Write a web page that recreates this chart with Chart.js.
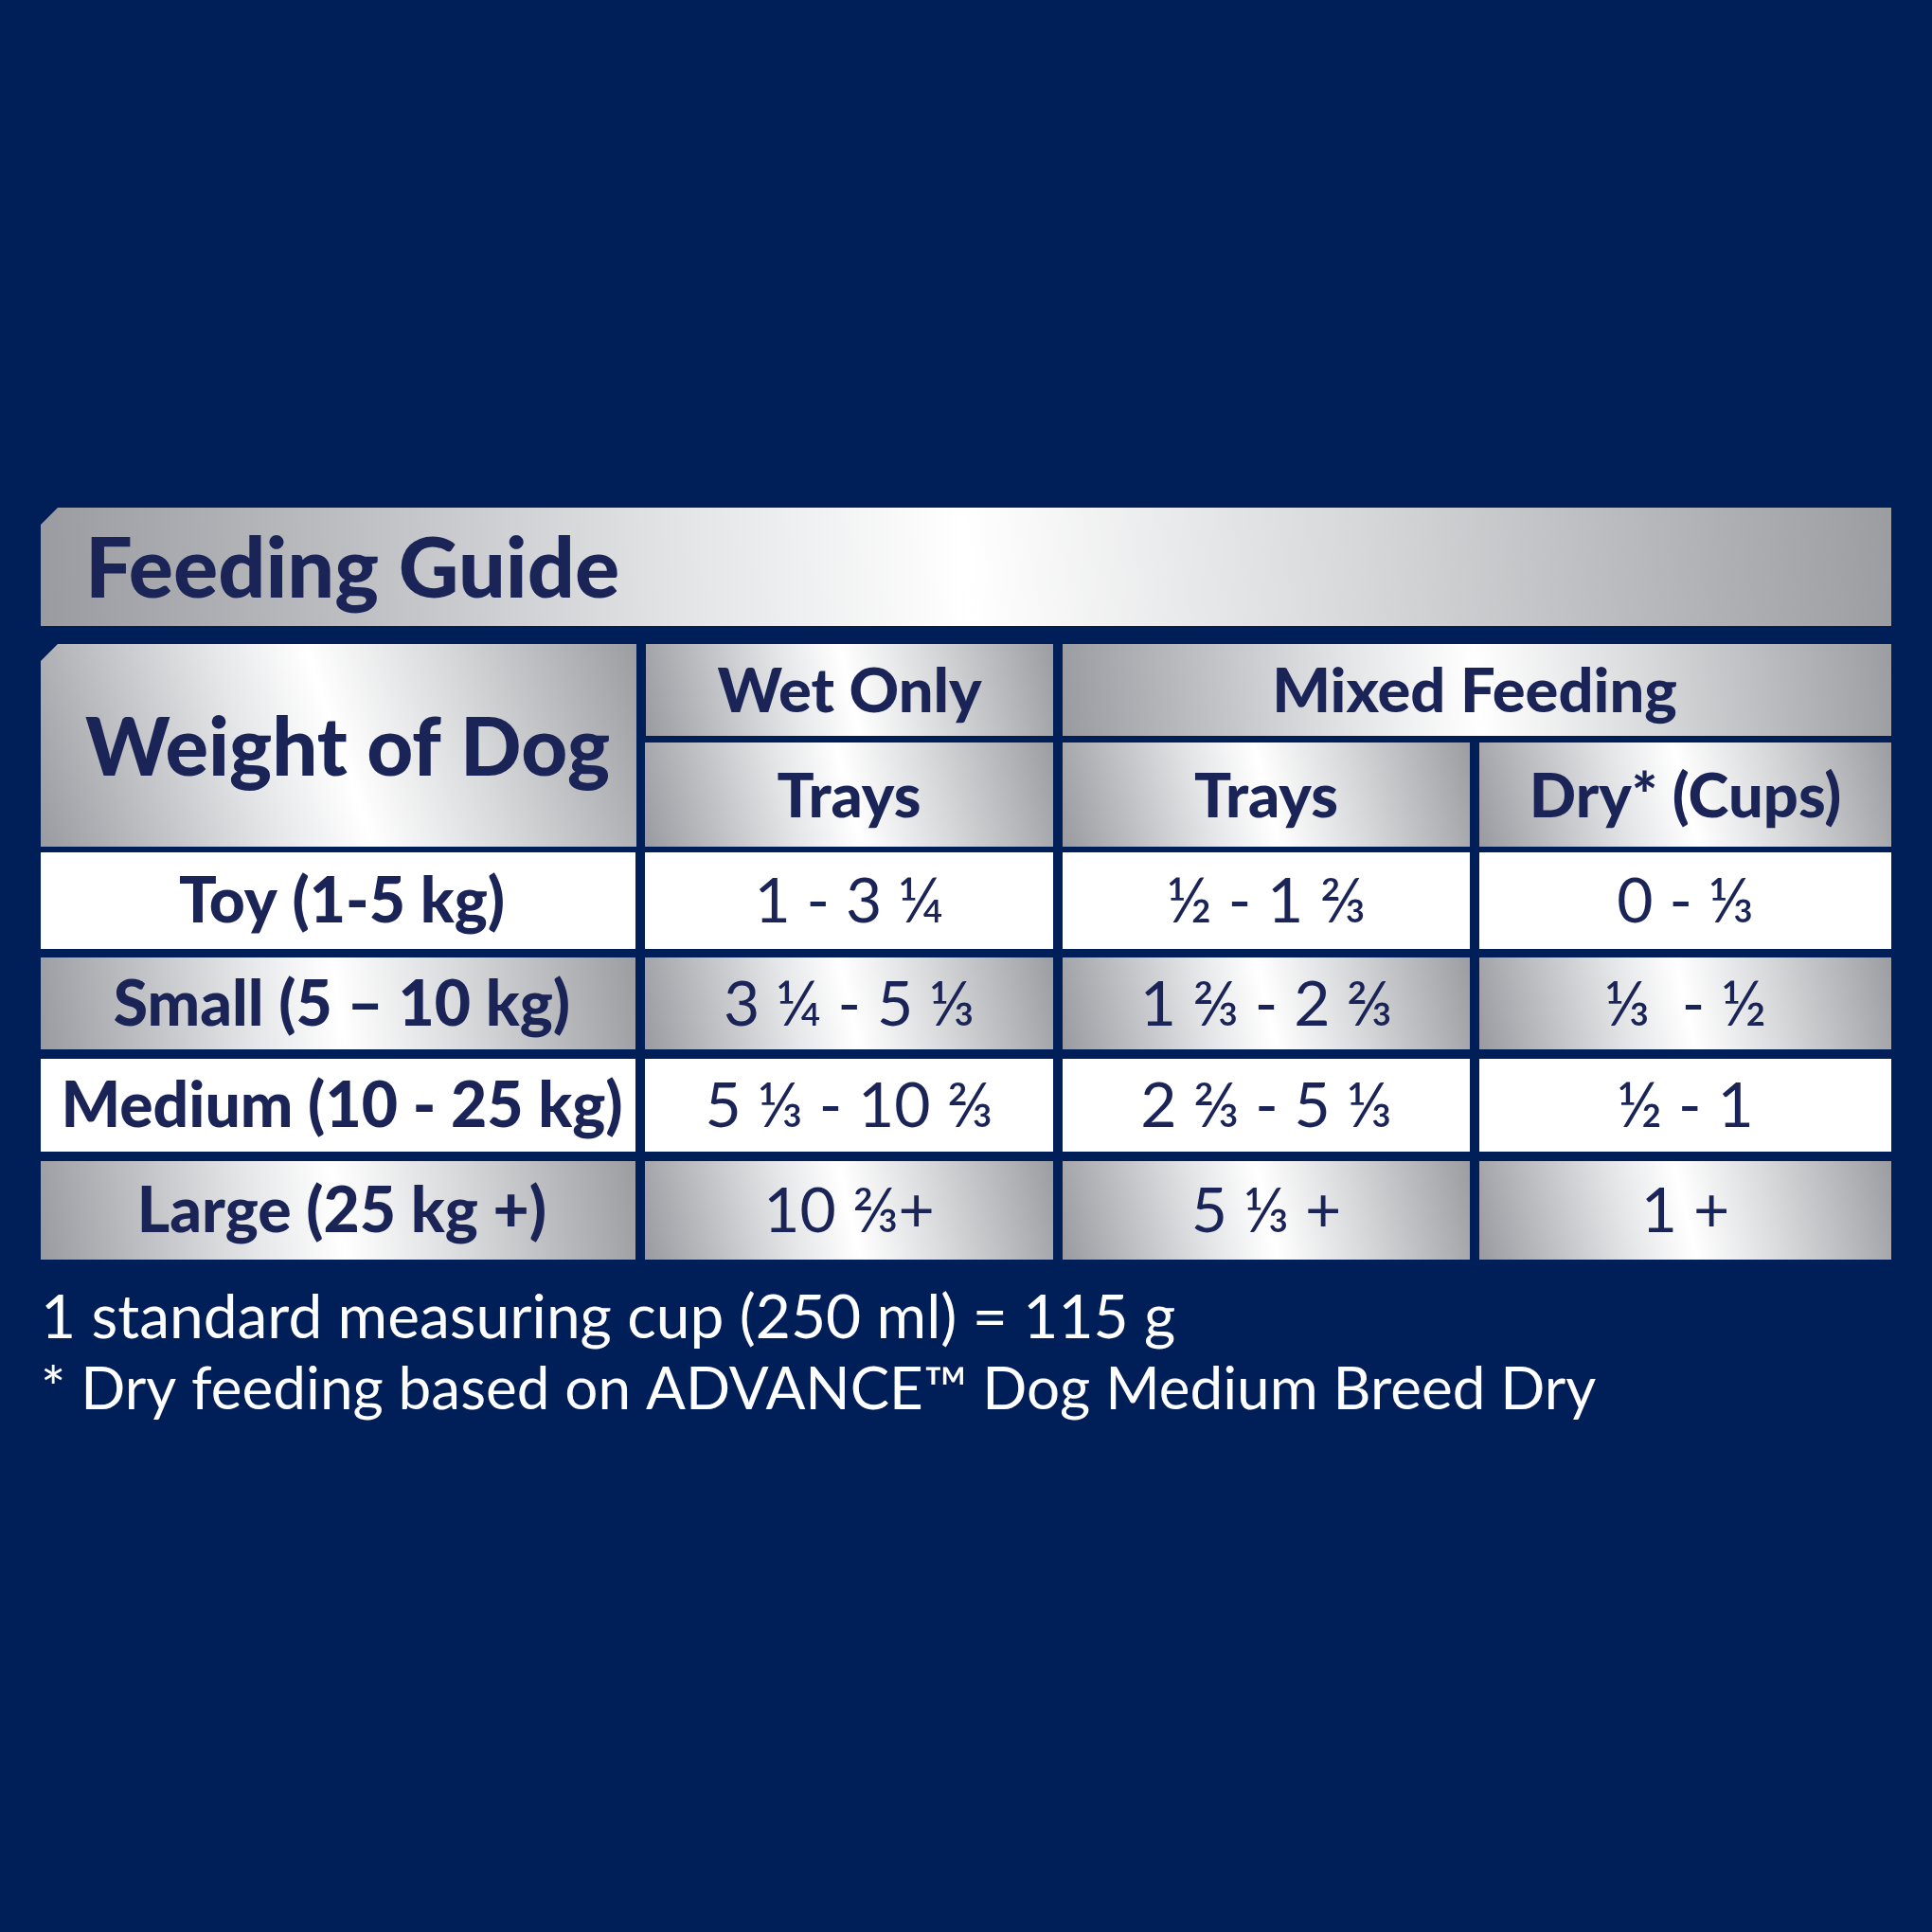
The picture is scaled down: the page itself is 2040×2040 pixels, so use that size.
<!DOCTYPE html>
<html><head><meta charset="utf-8">
<script src="https://cdn.jsdelivr.net/npm/chart.js@4"></script>
<style>html,body{margin:0;padding:0;background:#001e58}canvas{display:block}</style>
</head><body><canvas id="c" width="2040" height="2040"></canvas>
<script>
const title = "Feeding Guide";
const rowHeader = "Weight of Dog";
const groupHeaders = ["Wet Only", "Mixed Feeding"];
const subHeaders = ["Trays", "Trays", "Dry* (Cups)"];
const categories = ["Toy (1-5 kg)", "Small (5 – 10 kg)", "Medium (10 - 25 kg)", "Large (25 kg +)"];
const wetTrays = ["1 - 3 ¼", "3 ¼ - 5 ⅓", "5 ⅓ - 10 ⅔", "10 ⅔+"];
const mixedTrays = ["½ - 1 ⅔", "1 ⅔ - 2 ⅔", "2 ⅔ - 5 ⅓", "5 ⅓ +"];
const dryCups = ["0 - ⅓", "⅓  - ½", "½ - 1", "1 +"];
const footnotes = ["1 standard measuring cup (250 ml) = 115 g", "* Dry feeding based on ADVANCE™ Dog Medium Breed Dry"];

const NAVY = "#001e58", INK = "#1b2456";
const colX = [43, 676, 1117, 1557, 1997];
const rowY = [[900,1002],[1011,1108],[1118,1216],[1226,1330]];

const tablePlugin = {
  id: 'table',
  beforeDraw(chart) {
    const {ctx} = chart, sx = chart.scales.x, sy = chart.scales.y;
    const X = v => sx.getPixelForValue(v), Y = v => sy.getPixelForValue(v);
    ctx.save();
    ctx.fillStyle = NAVY; ctx.fillRect(0,0,chart.width,chart.height);
    const silver = (x0,y0,x1,y1) => {
      const g = ctx.createLinearGradient(X(x0),Y(y1),X(x1),Y(y0));
      g.addColorStop(0,"#9a9ba0"); g.addColorStop(0.35,"#e4e5e7"); g.addColorStop(0.5,"#ffffff");
      g.addColorStop(0.7,"#d9dadc"); g.addColorStop(1,"#9c9da1"); return g;
    };
    const cell = (x0,y0,x1,y1,fill,chamfer) => {
      ctx.fillStyle = fill; ctx.beginPath();
      const c = chamfer||0;
      ctx.moveTo(X(x0),Y(y0)+c); ctx.lineTo(X(x0)+c,Y(y0)); ctx.lineTo(X(x1),Y(y0));
      ctx.lineTo(X(x1),Y(y1)); ctx.lineTo(X(x0),Y(y1)); ctx.closePath(); ctx.fill();
    };
    const text = (s,x,y,size,weight,align,color) => {
      ctx.fillStyle = color||INK; ctx.font = `${weight} ${size}px "Lato"`;
      ctx.textAlign = align||"center"; ctx.textBaseline = "middle";
      ctx.fillText(s,X(x),Y(y));
    };
    cell(43,536,1997,661,silver(43,536,1997,661),18);
    text(title,90,603,88,"900","left");
    cell(43,680,672,894,silver(43,680,672,894),18);
    text(rowHeader,367,792,85,"900");
    cell(682,680,1112,777,silver(682,680,1112,777));
    cell(1122,680,1997,777,silver(1122,680,1997,777));
    text(groupHeaders[0],897,731,65,"900");
    text(groupHeaders[1],1557,731,65,"900");
    for (let i=0;i<3;i++){
      const x0=colX[i+1]+5, x1=colX[i+2]-(i<2?5:0);
      cell(x0,784,x1,894,silver(x0,784,x1,894));
      text(subHeaders[i],(x0+x1)/2,842,65,"900");
    }
    const cols=[categories,wetTrays,mixedTrays,dryCups];
    rowY.forEach(([y0,y1],r)=>{
      for(let c=0;c<4;c++){
        const x0=colX[c]+(c?5:0), x1=colX[c+1]-(c<3?5:0);
        const fill = r%2===0 ? "#ffffff" : silver(x0,y0,x1,y1);
        cell(x0,y0,x1,y1,fill);
        text(cols[c][r],(x0+x1)/2+(c?0:4),(y0+y1)/2+2,c?66:66,c?"400":"900");
      }
    });
    text(footnotes[0],43,1392,64,"400","left","#ffffff");
    text(footnotes[1],43,1468,62,"400","left","#ffffff");
    ctx.restore();
  }
};

new Chart(document.getElementById('c'), {
  type: 'scatter',
  data: { datasets: [{ data: [] }] },
  options: {
    responsive:false, animation:false, devicePixelRatio:1,
    layout:{padding:0},
    plugins:{legend:{display:false}, tooltip:{enabled:false}},
    scales:{
      x:{type:'linear',min:0,max:2040,display:false},
      y:{type:'linear',min:0,max:2040,reverse:true,display:false}
    }
  },
  plugins:[tablePlugin]
});
</script></body></html>
